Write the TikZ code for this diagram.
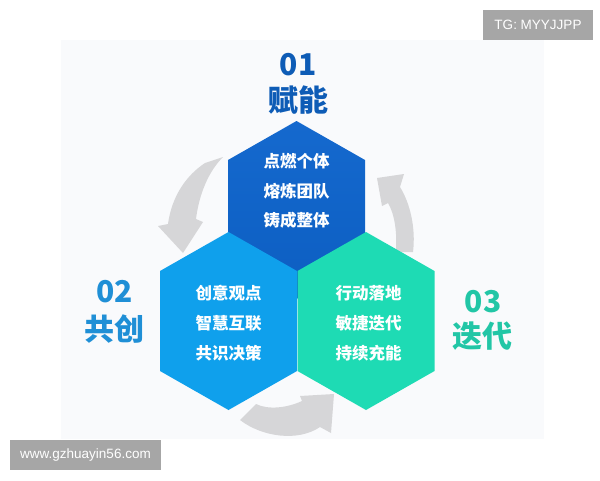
\documentclass[tikz,border=0pt]{standalone}
\usepackage{fontspec}
\newfontfamily\cjk{Noto Sans CJK SC}
\newfontfamily\wmfont{Liberation Sans}
\definecolor{panelbg}{HTML}{F9FAFC}
\definecolor{hexdark}{HTML}{0C5EC2}
\definecolor{hexdarktop}{HTML}{1569CE}
\definecolor{hexblue}{HTML}{0FA0EC}
\definecolor{hexgreen}{HTML}{1EDBB4}
\definecolor{tdark}{HTML}{0E5CB6}
\definecolor{tblue}{HTML}{1F8FD6}
\definecolor{tgreen}{HTML}{22C6A6}
\definecolor{arrowgray}{HTML}{D6D6D8}
\definecolor{wmgray}{HTML}{A6A6A6}
\newcommand\myhexpath{(0,-89) -- (68.5,-50) -- (68.5,50) -- (0,89) -- (-68.5,50) -- (-68.5,-50) -- cycle}
\begin{document}
\begin{tikzpicture}[x=1pt,y=-1pt,
  hextext/.style={font=\cjk\bfseries\fontsize{16.5}{20}\selectfont,text=white,align=center},
  numtext/.style={font=\cjk\bfseries\fontsize{30}{32}\selectfont},
  wmbox/.style={fill=wmgray,text=white,font=\wmfont\fontsize{13.5}{15}\selectfont,inner sep=0pt},
  garrow/.style={fill=arrowgray}]
\useasboundingbox (0,0) rectangle (600,480);
\fill[white] (0,0) rectangle (600,480);
\fill[panelbg] (61,40) rectangle (544,439);
% cycle arrows
\fill[garrow] (205,163) -- (223,157) .. controls (208,172) and (199,195) .. (196,219) -- (203,222) -- (183,253) -- (158,226) -- (168,224) .. controls (172,195) and (187,175) .. (205,163) -- cycle;
\fill[garrow] (396,252) -- (413,252) .. controls (416,228) and (410,203) .. (400,187) -- (404,174) -- (377,178) -- (382,206) -- (388,203) .. controls (395,215) and (397,232) .. (396,252) -- cycle;
\fill[garrow] (256,404) .. controls (268,410) and (287,408) .. (302,401) -- (300,396) -- (334,394) -- (331,433) -- (320,427) .. controls (298,442) and (262,437) .. (240,420) -- cycle;
% hexagons
\coordinate (h1) at (296.5,210);
\coordinate (h2) at (228.5,321);
\coordinate (h3) at (366,321);
\begin{scope}[shift={(h1)}]
  \shade[top color=hexdarktop,bottom color=hexdark] \myhexpath;
\end{scope}
\begin{scope}[shift={(h2)}]
  \fill[hexblue] \myhexpath;
\end{scope}
\begin{scope}[shift={(h3)}]
  \fill[hexgreen] \myhexpath;
\end{scope}
% hexagon texts
\node[hextext] (a1) at (296.5,161.5) {点燃个体};
\node[hextext] (a2) at (296.5,191) {熔炼团队};
\node[hextext] (a3) at (296.5,220.5) {铸成整体};
\node[hextext] (b1) at (228.5,293) {创意观点};
\node[hextext] (b2) at (228.5,323) {智慧互联};
\node[hextext] (b3) at (228.5,353) {共识决策};
\node[hextext] (c1) at (368.5,293) {行动落地};
\node[hextext] (c2) at (368.5,323) {敏捷迭代};
\node[hextext] (c3) at (368.5,353) {持续充能};
% titles
\node[numtext,text=tdark] (n1) at (298,65) {01};
\node[numtext,text=tdark] (t1) at (298,100) {赋能};
\node[numtext,text=tblue] (n2) at (114.5,292) {02};
\node[numtext,text=tblue] (t2) at (114,329) {共创};
\node[numtext,text=tgreen] (n3) at (483,302) {03};
\node[numtext,text=tgreen] (t3) at (482.5,336) {迭代};
% watermarks
\node[wmbox,minimum width=110pt,minimum height=30pt] (wm1) at (538,25) {TG: MYYJJPP};
\node[wmbox,minimum width=151pt,minimum height=30pt] (wm2) at (85.5,455) {www.gzhuayin56.com};
\end{tikzpicture}
\end{document}
